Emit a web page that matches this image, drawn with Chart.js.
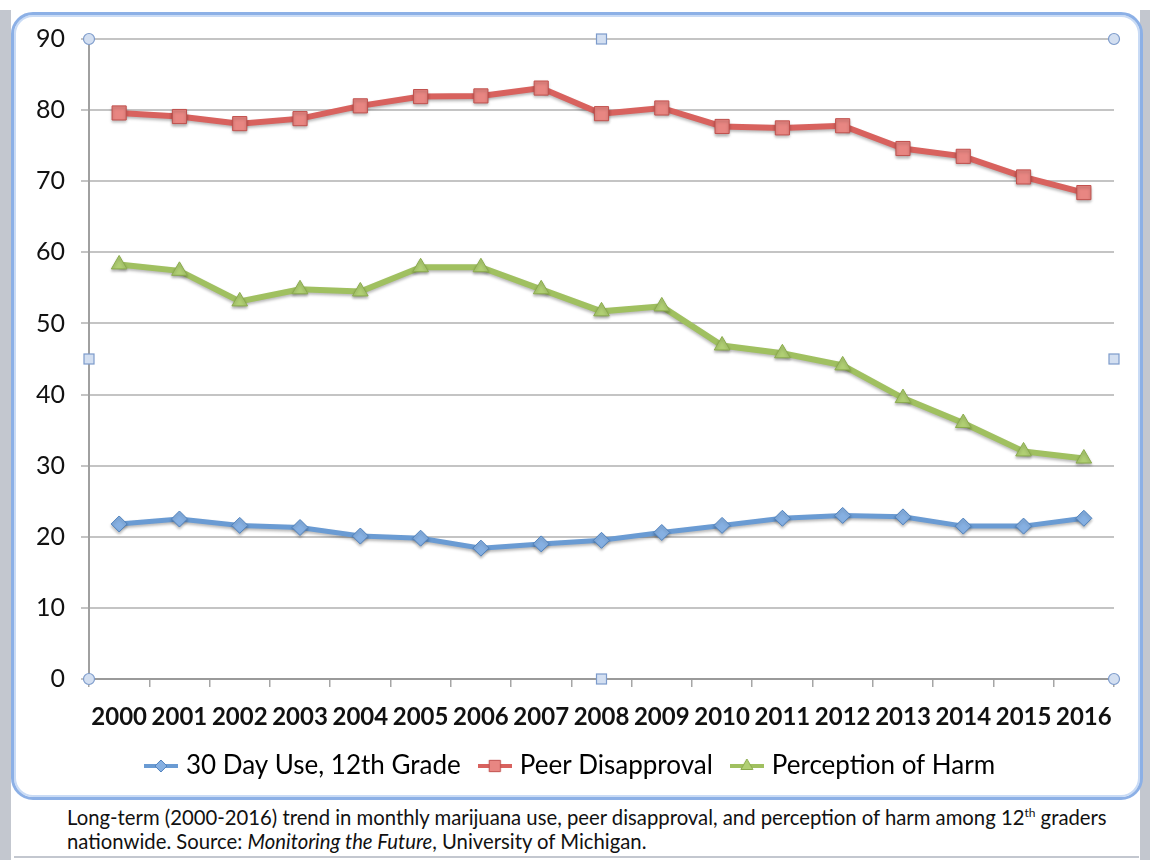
<!DOCTYPE html>
<html>
<head>
<meta charset="utf-8">
<script src="https://cdn.jsdelivr.net/npm/chart.js@4"></script>
<style>
  html, body { margin: 0; padding: 0; background: #fff; }
  #page { position: relative; width: 1150px; height: 860px; overflow: hidden; }
  .strip { position: absolute; top: 10px; bottom: 0; background: #c3c7cf; }
  #frame {
    position: absolute; left: 11px; top: 12px; width: 1126px; height: 782px;
    border: 3px solid #8cb0e6; border-radius: 22px; background: #fff;
    box-shadow: inset 0 0 0 2px #c9dbf5;
  }
  #caption {
    position: absolute; left: 14px; top: 803px; width: 1125px; height: 55px;
    background: #fff; border-bottom: 2px solid #c3c7cf;
    font-family: "Lato", "Open Sans", sans-serif; font-size: 20.3px; line-height: 24px;
    color: #111; padding-left: 53px; box-sizing: border-box; padding-top: 2px;
    white-space: nowrap;
  }
  #caption sup { font-size: 12px; line-height: 0; }
  canvas { position: absolute; left: 0; top: 0; }
</style>
</head>
<body>
<div id="page">
  <div class="strip" style="left:0;width:11px"></div>
  <div class="strip" style="left:1140px;width:10px"></div>
  <div id="frame"></div>
  <div id="caption">Long-term (2000-2016) trend in monthly marijuana use, peer disapproval, and perception of harm among 12<sup>th</sup> graders<br>nationwide. Source: <i>Monitoring the Future</i>, University of Michigan.</div>
  <canvas id="chart" width="1150" height="800" style="width:1150px;height:800px"></canvas>
</div>
<script>
(function () {
  const years = ["2000", "2001", "2002", "2003", "2004", "2005", "2006", "2007", "2008",
    "2009", "2010", "2011", "2012", "2013", "2014", "2015", "2016"];
  const monthlyUse = [21.8, 22.5, 21.6, 21.3, 20.1, 19.8, 18.4, 19.0, 19.5,
    20.6, 21.6, 22.6, 23.0, 22.8, 21.5, 21.5, 22.6];
  const peerDisapproval = [79.6, 79.1, 78.1, 78.8, 80.6, 81.9, 82.0, 83.1, 79.5,
    80.3, 77.7, 77.5, 77.8, 74.6, 73.5, 70.6, 68.4];
  const perceivedHarm = [58.3, 57.4, 53.1, 54.8, 54.5, 57.9, 57.9, 54.8, 51.7,
    52.4, 46.9, 45.8, 44.1, 39.5, 36.0, 32.0, 31.0];
  const yTicks = [0, 10, 20, 30, 40, 50, 60, 70, 80, 90];

  const fontFamily = "Lato, 'Open Sans', sans-serif";

  const series = [
    { label: "30 Day Use, 12th Grade", data: monthlyUse, line: "#6a9bd3", fill: "#86b0e2", edge: "#4f81bd", style: "rectRot", radius: 8, width: 5 },
    { label: "Peer Disapproval", data: peerDisapproval, line: "#d8625e", fill: "#e88682", edge: "#c0504d", style: "rect", radius: 10, width: 6 },
    { label: "Perception of Harm", data: perceivedHarm, line: "#a0c060", fill: "#b0cf73", edge: "#8aab4c", style: "triangle", radius: 9, width: 6 },
  ];

  // small legend swatch: a line with the series marker on top
  function legendSwatch(s) {
    const c = document.createElement("canvas");
    c.width = 34;
    c.height = 22;
    const ctx = c.getContext("2d");
    ctx.strokeStyle = s.line;
    ctx.lineWidth = 4;
    ctx.beginPath();
    ctx.moveTo(0, 11);
    ctx.lineTo(34, 11);
    ctx.stroke();
    ctx.fillStyle = s.fill;
    ctx.strokeStyle = s.edge;
    ctx.lineWidth = 1;
    Chart.helpers.drawPoint(ctx, { pointStyle: s.style, radius: s.radius - 2, rotation: 0, borderWidth: 1 }, 17, 11);
    return c;
  }

  const handlesPlugin = {
    id: "handles",
    afterDraw(chart) {
      const { ctx, chartArea: a } = chart;
      const mx = (a.left + a.right) / 2;
      const my = (a.top + a.bottom) / 2;
      ctx.save();
      ctx.fillStyle = "#d3dff1";
      ctx.strokeStyle = "#7d9bcb";
      ctx.lineWidth = 1.2;
      [[a.left, a.top], [a.right, a.top], [a.left, a.bottom], [a.right, a.bottom]].forEach(([x, y]) => {
        ctx.beginPath();
        ctx.arc(x, y, 5.5, 0, Math.PI * 2);
        ctx.fill();
        ctx.stroke();
      });
      [[mx, a.top], [mx, a.bottom], [a.left, my], [a.right, my]].forEach(([x, y]) => {
        ctx.fillRect(x - 5, y - 5, 10, 10);
        ctx.strokeRect(x - 5, y - 5, 10, 10);
      });
      ctx.restore();
    },
  };

  const shadowPlugin = {
    id: "lineShadow",
    beforeDatasetsDraw(chart) {
      const ctx = chart.ctx;
      ctx.save();
      ctx.shadowColor = "rgba(0,0,0,0.28)";
      ctx.shadowBlur = 3;
      ctx.shadowOffsetY = 2;
    },
    afterDatasetsDraw(chart) {
      chart.ctx.restore();
    },
  };

  new Chart(document.getElementById("chart"), {
    type: "line",
    data: {
      labels: years,
      datasets: series.map((s) => ({
        label: s.label,
        data: s.data,
        borderColor: s.line,
        borderWidth: s.width,
        backgroundColor: s.fill,
        pointStyle: s.style,
        pointRadius: s.radius,
        pointBackgroundColor: s.fill,
        pointBorderColor: s.edge,
        pointBorderWidth: 1,
        tension: 0,
        fill: false,
      })),
    },
    options: {
      responsive: false,
      animation: false,
      events: [],
      layout: { padding: { left: 30, right: 36, top: 39, bottom: 11 } },
      plugins: {
        tooltip: { enabled: false },
        legend: {
          position: "bottom",
          labels: {
            usePointStyle: true,
            pointStyleWidth: 24,
            padding: 22,
            color: "#111",
            font: { family: fontFamily, size: 26 },
            generateLabels: () => series.map((s, i) => ({
              text: s.label,
              pointStyle: legendSwatch(s),
              fillStyle: s.fill,
              strokeStyle: s.edge,
              lineWidth: 0,
              datasetIndex: i,
            })),
          },
        },
      },
      scales: {
        x: {
          offset: true,
          afterFit(scale) { scale.height = 52; },
          grid: { display: true, drawOnChartArea: false, offset: true, tickLength: 8, color: "#a6a6a6", lineWidth: 1.5 },
          border: { color: "#9a9a9a", width: 2 },
          ticks: { color: "#111", padding: 16, maxRotation: 0, autoSkip: false, font: { family: fontFamily, size: 24, weight: "bold" } },
        },
        y: {
          min: 0,
          max: 90,
          afterFit(scale) { scale.width = 59; },
          afterBuildTicks(scale) { scale.ticks = yTicks.map((v) => ({ value: v })); },
          grid: { color: "#c4c4c4", lineWidth: 2, tickLength: 8 },
          border: { color: "#a0a0a0", width: 2 },
          ticks: { color: "#111", padding: 16, font: { family: fontFamily, size: 25 } },
        },
      },
    },
    plugins: [shadowPlugin, handlesPlugin],
  });
})();
</script>
</body>
</html>
